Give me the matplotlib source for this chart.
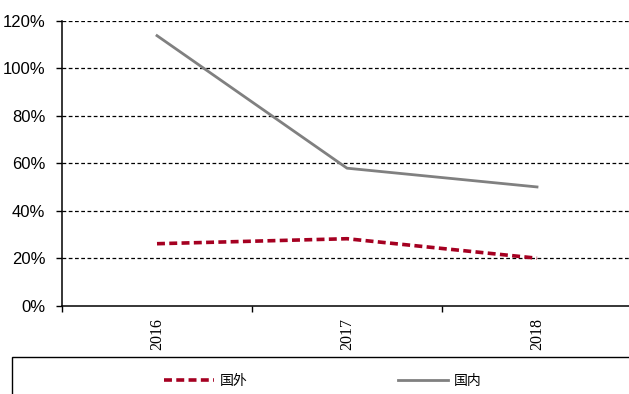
import matplotlib
matplotlib.use("Agg")
import matplotlib.pyplot as plt
from matplotlib.patches import Rectangle
from matplotlib.ticker import FuncFormatter, FixedLocator

# data
years = ["2016", "2017", "2018"]
overseas = [26.1, 28.2, 20.0]   # 国外
domestic = [113.7, 57.9, 50.0]  # 国内
y_ticks = [0, 20, 40, 60, 80, 100, 120]

plt.rcParams["font.family"] = ["Liberation Sans Narrow", "Liberation Sans", "DejaVu Sans"]

fig = plt.figure(figsize=(6.29, 3.94), dpi=100)
ax = fig.add_axes([62 / 629, 1 - 305.7 / 394, 570 / 629, 285 / 394])

x = list(range(len(years)))
ax.plot(x, overseas, color="#A50021", lw=2.6, ls=(0, (2.2, 1.2)), label="国外", solid_capstyle="butt")
ax.plot(x, domestic, color="#808080", lw=2.0, label="国内")

ax.set_xlim(-0.5, len(years) - 0.5)
ax.set_ylim(0, 120)
ax.set_yticks(y_ticks)
ax.yaxis.set_major_formatter(FuncFormatter(lambda v, _: f"{v:.0f}%"))
for t in y_ticks[1:]:
    ax.axhline(t, color="black", lw=0.9, ls=(0, (3, 2)), zorder=0)

ax.set_xticks(x)
ax.set_xticklabels(years, rotation=90, family=["Liberation Serif", "DejaVu Serif"], fontsize=11.5)
ax.xaxis.set_minor_locator(FixedLocator([i - 0.5 for i in range(len(years) + 1)]))
ax.tick_params(axis="x", which="major", length=0, pad=9)
ax.tick_params(axis="x", which="minor", length=4, width=1, direction="out")
ax.tick_params(axis="y", length=4, width=1, direction="out", pad=8, labelsize=12)

for s in ["top", "right"]:
    ax.spines[s].set_visible(False)
for s in ["left", "bottom"]:
    ax.spines[s].set_linewidth(1.1)

# legend box
fig.patches.append(Rectangle((12 / 629, -0.05), 1.0, (394 - 357) / 394 + 0.05,
                             transform=fig.transFigure, fill=False, ec="black", lw=1))
leg = fig.legend(loc="center", bbox_to_anchor=(323 / 629, 1 - 381 / 394), ncol=2, frameon=False,
                 handlelength=3.6, handletextpad=0.45, columnspacing=10.8,
                 prop={"family": ["Noto Sans CJK SC", "DejaVu Sans"], "size": 10})

fig.savefig("out.png", dpi=100)
